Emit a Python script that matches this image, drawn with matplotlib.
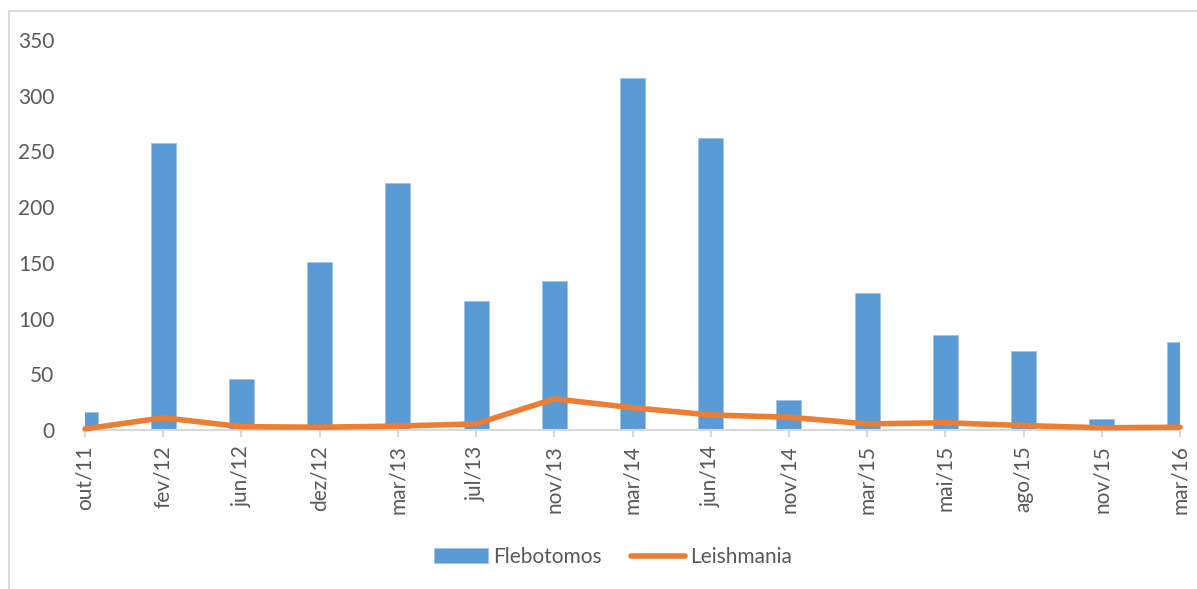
import numpy as np
import matplotlib.pyplot as plt
from matplotlib.patches import Rectangle

plt.rcParams['font.family'] = ['Lato', 'DejaVu Sans']

# data
months = ['out/11', 'fev/12', 'jun/12', 'dez/12', 'mar/13', 'jul/13', 'nov/13',
          'mar/14', 'jun/14', 'nov/14', 'mar/15', 'mai/15', 'ago/15', 'nov/15', 'mar/16']
flebotomos = [16, 258, 46, 151, 222, 116, 134, 316, 262, 27, 123, 85, 71, 10, 79]
leishmania = [1, 11, 3, 2.5, 3.5, 5.5, 28, 20, 13.5, 11.5, 5.5, 6.5, 4, 2, 2.5]

blue = '#5B9BD5'
orange = '#ED7D31'
grey_text = '#595959'

fig = plt.figure(figsize=(11.97, 5.89), dpi=100)
ax = fig.add_axes([85 / 1197, 1 - 430 / 589, 1095 / 1197, 390 / 589])

x = np.arange(len(months))
bars = ax.bar(x, flebotomos, width=0.32, color=blue, edgecolor='#9DC3E6',
              linewidth=0.6, zorder=2)
line, = ax.plot(x, leishmania, color=orange, linewidth=4, solid_capstyle='round',
                zorder=3, clip_on=False)

ax.set_xlim(0, len(months) - 1)
ax.set_ylim(0, 350)
ax.set_yticks(range(0, 351, 50))
ax.set_xticks(x)
ax.set_xticklabels(months, rotation=90)

for s in ['top', 'right', 'left']:
    ax.spines[s].set_visible(False)
ax.spines['bottom'].set_color('#D9D9D9')
ax.spines['bottom'].set_linewidth(1.5)
ax.tick_params(axis='y', length=0, pad=22, labelsize=15, labelcolor=grey_text)
ax.tick_params(axis='x', length=5, width=1.5, color='#D9D9D9', pad=6,
               labelsize=15, labelcolor=grey_text)

leg = fig.legend([bars, line], ['Flebotomos', 'Leishmania'], ncol=2, loc='center',
                 frameon=False, bbox_to_anchor=(613 / 1197, 1 - 557 / 589),
                 fontsize=15, handlelength=2.6, handleheight=0.7,
                 handletextpad=0.25, columnspacing=1.4)
for t in leg.get_texts():
    t.set_color(grey_text)

# chart area border (only left and top are visible in the reference)
fig.patches.append(Rectangle((9 / 1197, -0.1), 1.2, 1 - 11 / 589 + 0.1,
                             transform=fig.transFigure, fill=False,
                             edgecolor='#D9D9D9', linewidth=1.5))

fig.savefig('out.png', dpi=100)
